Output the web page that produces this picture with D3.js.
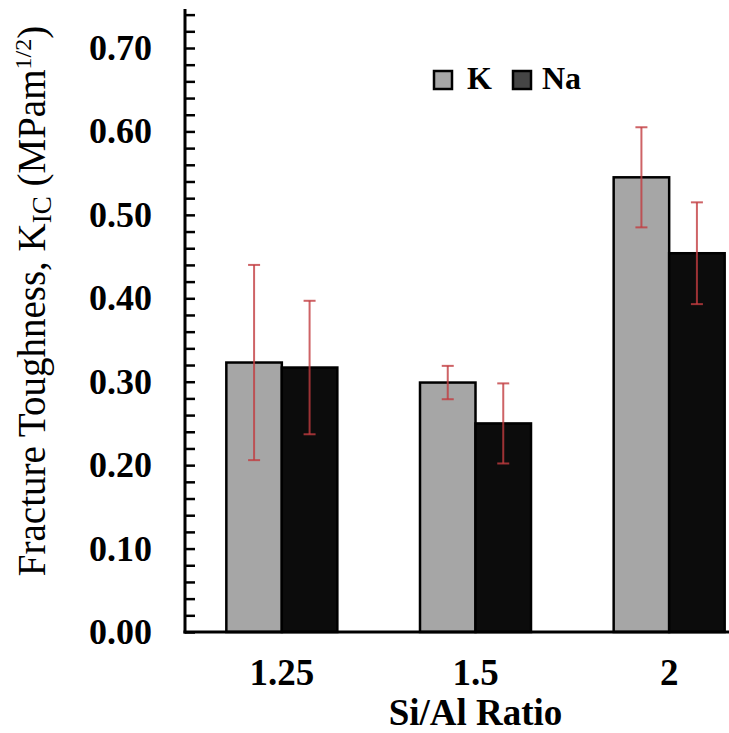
<html>
  <head>
    <script src="https://d3js.org/d3.v7.min.js"></script>
    <style>
      body { margin: 0; background: #fff; }
      text { font-family: "Liberation Serif", "Times New Roman", serif; }
    </style>
  </head>
  <body>
    <script type="text/javascript">
      // data
      var ratios = ["1.25", "1.5", "2"];
      var series = ["K", "Na"];
      var kValues = [0.323, 0.299, 0.545];
      var kErrors = [0.117, 0.020, 0.060];
      var naValues = [0.317, 0.250, 0.454];
      var naErrors = [0.080, 0.048, 0.061];
      var yTicks = [0, 0.1, 0.2, 0.3, 0.4, 0.5, 0.6, 0.7];

      var w = 729, h = 733;
      var left = 185, bottom = 632, plotRight = 766;

      var y = d3.scaleLinear().domain([0, 0.7]).range([bottom, 48]);
      var x0 = d3.scaleBand().domain(ratios).range([left, plotRight]).paddingInner(0).paddingOuter(0);
      var x1 = d3.scaleBand().domain(series).range([0, 111]);
      var groupOffset = (x0.bandwidth() - 111) / 2;
      var fills = { K: "#a6a6a6", Na: "#0c0c0c" };
      var legendFills = { K: "#a6a6a6", Na: "#454545" };

      var rows = [];
      ratios.forEach(function (r, i) {
        rows.push({ ratio: r, s: "K", v: kValues[i], e: kErrors[i] });
        rows.push({ ratio: r, s: "Na", v: naValues[i], e: naErrors[i] });
      });

      var svg = d3.select("body").append("svg")
        .attr("width", w)
        .attr("height", h);

      var bx = d => x0(d.ratio) + groupOffset + x1(d.s);

//bars
      svg.append("g").selectAll("rect").data(rows).enter().append("rect")
        .attr("x", bx)
        .attr("y", d => y(d.v))
        .attr("width", x1.bandwidth())
        .attr("height", d => y(0) - y(d.v))
        .attr("fill", d => fills[d.s])
        .attr("stroke", "#000")
        .attr("stroke-width", 2.5);

//error bars
      var eb = svg.append("g").attr("stroke", "#c23c40").attr("stroke-opacity", 0.8).attr("stroke-width", 2);
      rows.forEach(function (d) {
        var cx = bx(d) + x1.bandwidth() / 2;
        eb.append("line").attr("x1", cx).attr("x2", cx).attr("y1", y(d.v + d.e)).attr("y2", y(d.v - d.e));
        eb.append("line").attr("x1", cx - 6).attr("x2", cx + 6).attr("y1", y(d.v + d.e)).attr("y2", y(d.v + d.e));
        eb.append("line").attr("x1", cx - 6).attr("x2", cx + 6).attr("y1", y(d.v - d.e)).attr("y2", y(d.v - d.e));
      });

//y axis with inward minor ticks
      var yAxis = d3.axisRight(y).tickValues(d3.range(0, 0.745, 0.02)).tickSize(10).tickFormat("");
      var ya = svg.append("g")
        .attr("transform", "translate(" + left + ",0)")
        .call(yAxis);
      ya.select(".domain").remove();
      ya.selectAll("line").attr("stroke", "#000").attr("stroke-width", 2.5);
      svg.append("line").attr("x1", left).attr("x2", left).attr("y1", 9).attr("y2", bottom + 1.5)
        .attr("stroke", "#000").attr("stroke-width", 3);

      svg.append("g").selectAll("text").data(yTicks).enter().append("text")
        .attr("x", 152)
        .attr("y", d => y(d) + 12)
        .attr("text-anchor", "end")
        .attr("font-size", 36)
        .attr("font-weight", "bold")
        .text(d => d3.format(".2f")(d));

//x axis
      svg.append("line").attr("x1", left - 1.5).attr("x2", w).attr("y1", bottom).attr("y2", bottom)
        .attr("stroke", "#000").attr("stroke-width", 3);

      svg.append("g").selectAll("text").data(ratios).enter().append("text")
        .attr("x", d => x0(d) + x0.bandwidth() / 2)
        .attr("y", 685)
        .attr("text-anchor", "middle")
        .attr("font-size", 37)
        .attr("font-weight", "bold")
        .text(d => d);

      svg.append("text")
        .attr("x", (left + plotRight) / 2)
        .attr("y", 725)
        .attr("text-anchor", "middle")
        .attr("font-size", 37)
        .attr("font-weight", "bold")
        .text("Si/Al Ratio");

//y title
      var yt = svg.append("text")
        .attr("transform", "translate(45,301) rotate(-90)")
        .attr("text-anchor", "middle")
        .attr("font-size", 39);
      yt.append("tspan").text("Fracture Toughness, K");
      yt.append("tspan").attr("font-size", 27).attr("dy", 6).text("IC");
      yt.append("tspan").attr("dy", -6).text(" (MPam");
      yt.append("tspan").attr("font-size", 24).attr("dy", -14).text("1/2");
      yt.append("tspan").attr("dy", 14).text(")");

//legend
      var lg = svg.append("g").selectAll("g").data(series).enter().append("g")
        .attr("transform", (d, i) => "translate(" + [434, 513][i] + ",71)");
      lg.append("rect")
        .attr("width", 18).attr("height", 18)
        .attr("fill", d => legendFills[d])
        .attr("stroke", "#000").attr("stroke-width", 2.5);
      lg.append("text")
        .attr("x", d => d == "K" ? 33 : 29)
        .attr("y", 18)
        .attr("font-size", 32)
        .attr("font-weight", "bold")
        .text(d => d);
    </script>
  </body>
</html>
